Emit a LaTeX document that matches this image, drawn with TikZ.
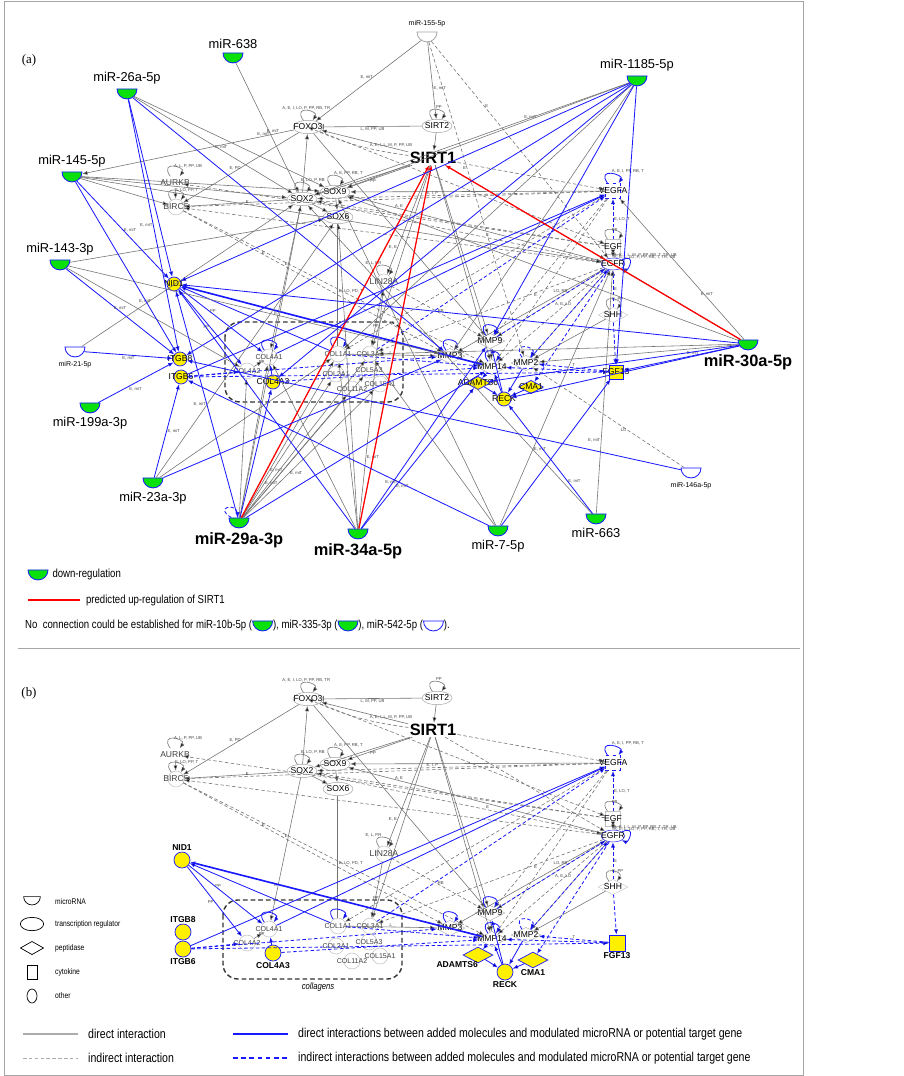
\documentclass[tikz,border=0pt]{standalone}
\usepackage{fontspec}
\setmainfont{Liberation Sans}
\newfontfamily\narrowfont[FakeStretch=0.82]{Liberation Sans}
\newfontfamily\tagfont{Liberation Serif}
\usetikzlibrary{arrows.meta, positioning, shapes.geometric}

\definecolor{mirgreen}{RGB}{10,225,10}
\definecolor{molyellow}{RGB}{255,240,0}
\definecolor{ipablue}{RGB}{25,25,255}
\definecolor{edgegray}{RGB}{115,115,115}

\newcommand\genefont{\fontsize{7.3}{8}\selectfont}
\newcommand\colfont{\fontsize{6}{7}\selectfont}
\newcommand\lblfont{\fontsize{3.6}{4}\selectfont}
\newcommand\mirfont{\fontsize{11}{12}\selectfont}
\newcommand\mirbigfont{\fontsize{14}{15}\selectfont\bfseries}
\newcommand\mirsmallfont{\fontsize{6}{7}\selectfont}

\tikzset{
    >={Latex[length=4.5pt,width=3.5pt]}, % filled heads as in the IPA plot
    dir/.style={->, draw=edgegray, line width=0.5pt}, % direct interaction
    ind/.style={dir, dash pattern=on 3pt off 2pt}, % indirect interaction
    bdir/.style={->, draw=ipablue, line width=0.7pt}, % added molecules, direct
    bind/.style={bdir, dash pattern=on 3pt off 2pt}, % added molecules, indirect
    redup/.style={->, draw=red, line width=1.1pt}, % predicted up-regulation of SIRT1
    cyc/.style={out=125, in=55, min distance=6mm}, % self loop
    lbl/.style={font=\lblfont, text=black!75, inner sep=0.5pt},
    tr/.style={ellipse, draw=gray!75, fill=white, minimum width=9mm, minimum height=4mm, inner sep=0.3pt,
        label={[font=\genefont]center:#1}},
    oth/.style={circle, draw=gray!55, minimum size=4.8mm, inner sep=0.3pt,
        label={[font=\genefont, text=black!75]center:#1}},
    othc/.style={circle, draw=gray!55, minimum size=4.8mm, inner sep=0.3pt,
        label={[font=\colfont, text=black!75]center:#1}},
    pep/.style={diamond, draw=gray!65, minimum width=9mm, minimum height=4.6mm, inner sep=0.3pt,
        label={[font=\genefont]center:#1}},
    cyt/.style={rectangle, draw=ipablue, dashed, minimum size=4.6mm, inner sep=0.3pt,
        label={[font=\genefont]center:#1}},
    recp/.style={ellipse, draw=ipablue, minimum width=7mm, minimum height=3.6mm, inner sep=0.3pt,
        label={[font=\genefont]center:#1}},
    mir/.style={semicircle, shape border rotate=180, draw=ipablue, fill=mirgreen, line width=0.7pt,
        minimum width=6mm, minimum height=3mm, inner sep=0.3pt},
    mirw/.style={mir, fill=white},
    ylwa/.style={circle, draw=ipablue, fill=molyellow, line width=0.6pt, minimum size=4.2mm, inner sep=0.3pt,
        label={[font=\genefont]center:#1}},
    ylwpa/.style={diamond, draw=ipablue, fill=molyellow, line width=0.6pt, minimum width=7.5mm,
        minimum height=4mm, inner sep=0.3pt, label={[font=\genefont]center:#1}},
    ylwca/.style={rectangle, draw=ipablue, fill=molyellow, line width=0.6pt, minimum size=4.2mm,
        inner sep=0.3pt, label={[font=\genefont]center:#1}},
    ylwb/.style={circle, draw=ipablue, fill=molyellow, line width=0.6pt, minimum size=4.8mm, inner sep=0.3pt},
    ylwpb/.style={diamond, draw=ipablue, fill=molyellow, line width=0.6pt, minimum width=9mm,
        minimum height=4.8mm, inner sep=0.3pt},
    ylwcb/.style={rectangle, draw=ipablue, fill=molyellow, line width=0.6pt, minimum size=4.8mm, inner sep=0.3pt},
    blbl/.style={font=\genefont\bfseries, inner sep=1pt},
    collbox/.style={draw=black!80, line width=1.2pt, dash pattern=on 4pt off 2.5pt, rounded corners=4.5mm},
    keyshape/.style={draw=black, line width=0.6pt, fill=white, inner sep=0.3pt},
    keytxt/.style={font=\narrowfont\fontsize{7}{8}\selectfont, inner sep=0pt},
    legtxt/.style={font=\narrowfont\fontsize{10}{11}\selectfont, inner sep=0pt},
    keybig/.style={font=\narrowfont\fontsize{11}{12}\selectfont, inner sep=0pt},
}

% network shared by panels (a) and (b)
\newcommand\corenodes{%
  \node[tr=FOXO3] (foxo3) at (308,-127) {};
  \node[tr=SIRT2] (sirt2) at (437,-126) {};
  \node[font=\mirbigfont, inner sep=1pt] (sirt1) at (433,-158) {SIRT1};
  \node[oth=AURKB, draw=none] (aurkb) at (175,-183) {};
  \node[oth=BIRC5] (birc5) at (176,-207) {};
  \node[tr=SOX2] (sox2) at (302,-199) {};
  \node[tr=SOX9] (sox9) at (335,-192) {};
  \node[tr=SOX6] (sox6) at (338,-217) {};
  \node[oth=LIN28A] (lin28a) at (384,-282) {};
  \node[cyt=VEGFA] (vegfa) at (613,-191) {};
  \node[cyt=EGF, draw=gray!50, solid] (egf) at (613,-247) {};
  \node[recp=EGFR] (egfr) at (613,-264) {};
  \node[pep=SHH, draw=gray!45] (shh) at (613,-315) {};
  \node[pep=MMP3] (mmp3) at (450,-356) {};
  \node[pep=MMP9] (mmp9) at (490,-341) {};
  \node[pep=MMP14] (mmp14) at (492,-367) {};
  \node[pep=MMP2] (mmp2) at (526,-363) {};
  \node[othc=COL1A1] (col1a1) at (338,-354) {};
  \node[othc=COL3A1] (col3a1) at (370,-354) {};
  \node[othc=COL2A1] (col2a1) at (336,-374) {};
  \node[othc=COL5A3] (col5a3) at (369,-370) {};
  \node[othc=COL15A1] (col15a1) at (380,-384) {};
  \node[othc=COL11A2] (col11a2) at (352,-389) {};
  \node[othc=COL4A1] (col4a1) at (269,-357) {};
  \node[othc=COL4A2] (col4a2) at (247,-371) {};
}

\newcommand\coreedges{%
  \path[dir]
    (foxo3) edge[cyc] node[lbl, above]{A, E, I, LO, P, PP, RB, TR} (foxo3)
    (sirt2) edge[cyc] node[lbl, above right]{PP} (sirt2)
    (sox2) edge[cyc] node[lbl, above right]{E, LO, P, RB} (sox2)
    (sox9) edge[cyc] node[lbl, above right]{A, E, PP, RB, T} (sox9)
    (aurkb) edge[cyc] node[lbl, right]{A, L, P, PP, UB} (aurkb)
    (birc5) edge[cyc] node[lbl, right]{E, LO, PP, T} (birc5)
    (lin28a) edge[cyc] node[lbl, above left]{E, L, PR} (lin28a)
    (egf) edge[cyc] node[lbl, right]{PP} (egf)
    (shh) edge[cyc] node[lbl, right]{E, PP} (shh);
  \path[dir]
    (sirt2) edge[-|] node[lbl, below]{L, M, PP, UB} (foxo3)
    (sirt1) edge node[lbl, above, pos=0.2]{A, E, I, L, M, P, PP, UB} (foxo3)
    (sirt2) edge (sirt1)
    (sox2) edge (foxo3)
    (foxo3) edge node[lbl, above, pos=0.55]{E, PD} (birc5)
    (foxo3) edge (mmp9)
    (sirt1) edge node[lbl, below, pos=0.6]{PP} (sox9)
    (sirt1) edge (sox2)
    (sirt1) edge node[lbl, left, pos=0.75]{E, E} (lin28a)
    (sirt1) edge (mmp9)
    (sirt1) edge (col3a1)
    (sirt1) edge (mmp14)
    (sox2) edge (sox6)
    (sox9) edge (sox6)
    (sox2) edge (birc5)
    (aurkb) edge (birc5)
    (vegfa) edge (sox9)
    (egfr) edge node[lbl, above, pos=0.8]{A, E} (sox9)
    (egf) edge[<->] node[lbl, right, pos=0]{A, E, I, L, M, P, PP, RB, T, TR, UB}
                    node[lbl, right, pos=1]{A, E, L, LO, P, PP, RB, T, TR, UB} (egfr)
    (sox2) edge node[lbl, left, pos=0.75]{E} (col4a1)
    (sox6) edge[-, double, double distance=0.8pt] node[lbl, right, pos=0.55]{E, LO, PD, T} (col1a1)
    (col1a1) edge node[lbl, above]{L} (mmp3)
    (col4a2) edge node[lbl, above right]{PP} (col4a1)
    (mmp9) edge (mmp14)
    (mmp3) edge (mmp14)
    (egfr) edge node[lbl, above, pos=0.3]{LO, RB} (mmp3)
    (lin28a) edge node[lbl, below, pos=0.6]{PP} (col3a1)
    (shh) edge (mmp2);
  \path[ind]
    (sirt1) edge[bend left=8] (foxo3)
    (vegfa) edge node[lbl, above, pos=0.85]{E} (birc5)
    (egfr) edge (birc5)
    (egf) edge (aurkb)
    (egf) edge (sox2)
    (vegfa) edge node[lbl, above, pos=0.6]{E, I, P} (sox2)
    (birc5) edge node[lbl, right, pos=0.3]{E} (mmp3)
    (birc5) edge node[lbl, left, pos=0.35]{E} (mmp14)
    (vegfa) edge (mmp9)
    (vegfa) edge (mmp14)
    (vegfa) edge (col1a1)
    (egfr) edge (mmp9)
    (egfr) edge (mmp2)
    (egfr) edge node[lbl, above, pos=0.4]{A, E, LO} (mmp14)
    (egfr) edge node[lbl, below, pos=0.3]{E} (col3a1)
    (sirt1) edge (egfr)
    (sirt1) edge (vegfa)
    (foxo3) edge (egf)
    (sox2) edge node[lbl, above, pos=0.6]{E} (egfr)
    (lin28a) edge node[lbl, right]{RB} (mmp9);
  \path[bdir]
    (vegfa) edge[cyc] node[lbl, above right]{A, E, I, PP, RB, T} (vegfa)
    (mmp9) edge[cyc] (mmp9)
    (mmp14) edge[cyc] (mmp14)
    (mmp3) edge[cyc] (mmp3)
    (col1a1) edge[cyc] (col1a1)
    (col4a1) edge[cyc] (col4a1)
    (egfr) edge[out=25, in=-25, min distance=5mm] (egfr)
    (mmp14) edge[line width=1.4pt] (nid1)
    (nid1) edge node[lbl, above, pos=0.4]{PP} (col4a1)
    (nid1) edge node[lbl, left, pos=0.5]{PP} (col4a2)
    (col1a1) edge (nid1)
    (itgb6) edge (vegfa)
    (col4a1) edge (vegfa)
    (reck) edge (mmp9)
    (reck) edge (mmp14)
    (mmp2) edge (reck)
    (cma1) edge (reck)
    (adamts6) edge (reck)
    (mmp14) edge (adamts6)
    (col4a3) edge (col4a1);
  \path[bind]
    (mmp2) edge[cyc] (mmp2)
    (egf) edge node[lbl, right]{E, LO, T} (vegfa)
    (itgb6) edge (mmp3)
    (itgb6) edge (col4a2)
    (itgb6) edge (fgf13)
    (col4a3) edge (mmp14)
    (col3a1) edge (vegfa)
    (mmp9) edge (egfr)
    (mmp2) edge (egfr)
    (shh) edge node[lbl, right]{E} (egfr)
    (shh) edge (fgf13)
    (fgf13) edge node[lbl, above]{T} (mmp2)
    (fgf13) edge (mmp14)
    (egfr) edge (cma1)
    (col1a1) edge (mmp14);
}

\begin{document}
\begin{tikzpicture}[x=0.03cm, y=0.03cm]
\useasboundingbox (0,0) rectangle (903,-1076);
\draw[gray!70, line width=0.8pt] (4,-1) rectangle (803,-1075);

% (a) network with the modulated microRNAs
\node[font=\tagfont\fontsize{11}{12}\selectfont] (taga) at (29,-60) {(a)};
\begin{scope}[name prefix=a-]
  \corenodes
  \draw[collbox] (225,-322) rectangle (403,-402);
  \node[ylwa=NID1] (nid1) at (174,-284) {};
  \node[ylwa=ITGB8] (itgb8) at (180,-359) {};
  \node[ylwa=ITGB6] (itgb6) at (181,-377) {};
  \node[ylwa=COL4A3] (col4a3) at (273,-382) {};
  \node[ylwpa=ADAMTS6] (adamts6) at (478,-383) {};
  \node[ylwa=RECK] (reck) at (504,-399) {};
  \node[ylwpa=CMA1] (cma1) at (531,-387) {};
  \node[ylwca=FGF13] (fgf13) at (616,-372) {};
  \coreedges

  \node[mirw, draw=gray!70, label={[font=\mirsmallfont]above:miR-155-5p}] (m155) at (427,-36) {};
  \node[mir, label={[font=\mirfont]above:miR-638}] (m638) at (233,-57) {};
  \node[mir, label={[font=\mirfont]above:miR-26a-5p}] (m26a) at (127,-93) {};
  \node[mir, label={[font=\mirfont]above:miR-1185-5p}] (m1185) at (637,-80) {};
  \node[mir, label={[font=\mirfont]above:miR-145-5p}] (m145) at (72,-176) {};
  \node[mir, label={[font=\mirfont]above:miR-143-3p}] (m143) at (60,-264) {};
  \node[mirw, label={[font=\mirsmallfont]below:miR-21-5p}] (m21) at (75,-351) {};
  \node[mir, label={[font=\mirfont]below:miR-199a-3p}] (m199a) at (90,-407) {};
  \node[mir, label={[font=\mirfont]below:miR-23a-3p}] (m23a) at (153,-482) {};
  \node[mir, label={[font=\mirbigfont]below:miR-29a-3p}] (m29a) at (239,-522) {};
  \node[mir, label={[font=\mirbigfont]below:miR-34a-5p}] (m34a) at (358,-533) {};
  \node[mir, label={[font=\mirfont]below:miR-7-5p}] (m7) at (498,-530) {};
  \node[mir, label={[font=\mirfont]below:miR-663}] (m663) at (596,-518) {};
  \node[mirw, label={[font=\mirsmallfont]below:miR-146a-5p}] (m146a) at (691,-472) {};
  \node[mir, label={[font=\mirbigfont]below:miR-30a-5p}] (m30a) at (748,-344) {};

  \path[dir]
    (m155) edge node[lbl, left, pos=0.45]{E, miT} (foxo3)
    (m155) edge node[lbl, right, pos=0.6]{E, miT} (sirt2)
    (m638) edge node[lbl, left, pos=0.55]{E, miT} (sox2)
    (m26a) edge node[lbl, above, pos=0.55]{E, miT} (sox2)
    (m26a) edge (sox9)
    (m1185) edge node[lbl, above, pos=0.35]{E, miT} (sox9)
    (m1185) edge (sox2)
    (m1185) edge (col1a1)
    (m1185) edge (mmp3)
    (foxo3) edge node[lbl, above, pos=0.1]{E, miT} (m145)
    (m145) edge (sox2)
    (m145) edge (sox9)
    (m145) edge (egfr)
    (m145) edge (birc5)
    (m143) edge (sox6)
    (m143) edge (col4a2)
    (m143) edge (mmp3)
    (m21) edge node[lbl, above, pos=0.3]{E, miT} (sox2)
    (m23a) edge (sox6)
    (m23a) edge (col1a1)
    (m29a) edge (col4a1)
    (m29a) edge (col4a2)
    (m29a) edge node[lbl, right, pos=0.3]{E, miT} (col1a1)
    (m29a) edge (col3a1)
    (m29a) edge node[lbl, right, pos=0.25]{E, miT} (col2a1)
    (m29a) edge (col5a3)
    (m29a) edge node[lbl, right, pos=0.35]{E, miT} (col15a1)
    (m29a) edge (col11a2)
    (m29a) edge (sox2)
    (m34a) edge node[lbl, right, pos=0.3]{E, miT} (lin28a)
    (m34a) edge (sox6)
    (m34a) edge (col1a1)
    (m34a) edge (col4a1)
    (m7) edge node[lbl, right, pos=0.3]{E, miT} (egfr)
    (m7) edge (sox9)
    (m7) edge (col3a1)
    (m663) edge (sox2)
    (m663) edge node[lbl, left, pos=0.3]{E, miT} (egfr)
    (m30a) edge (egfr)
    (m30a) edge node[lbl, above, pos=0.3]{E, miT} (vegfa)
    (m30a) edge (mmp2)
    (m30a) edge (sox9)
    (m30a) edge (col3a1);
  \path[ind]
    (m155) edge node[lbl, right, pos=0.3]{E} (egfr)
    (m155) edge node[lbl, left, pos=0.4]{E} (mmp2)
    (m146a) edge node[lbl, below, pos=0.4]{LO} (mmp2);
  \path[redup]
    (m29a) edge (sirt1)
    (m34a) edge (sirt1)
    (m30a) edge (sirt1);
  \path[bdir]
    (m26a) edge (nid1)
    (m26a) edge node[lbl, left, pos=0.5]{E, miT} (itgb8)
    (m26a) edge (mmp3)
    (m1185) edge (nid1)
    (m1185) edge (itgb8)
    (m1185) edge (fgf13)
    (m1185) edge (mmp9)
    (m1185) edge (col4a3)
    (m145) edge node[lbl, right, pos=0.5]{E, miT} (nid1)
    (m145) edge (itgb8)
    (m143) edge node[lbl, above, pos=0.5]{E, miT} (itgb8)
    (m21) edge node[lbl, below, pos=0.5]{E, miT} (itgb8)
    (m199a) edge node[lbl, below right, pos=0.4]{E, miT} (itgb8)
    (m23a) edge node[lbl, right, pos=0.5]{E, miT} (itgb6)
    (m23a) edge (mmp3)
    (m29a) edge node[lbl, left, pos=0.5]{E, miT} (nid1)
    (m29a) edge (col4a3)
    (m29a) edge (mmp14)
    (m29a) edge[bind, out=150, in=100, min distance=6mm] (m29a)
    (m34a) edge (nid1)
    (m34a) edge node[lbl, right, pos=0.3]{E, miT} (adamts6)
    (m34a) edge (mmp9)
    (m7) edge node[lbl, left, pos=0.3]{E, miT} (itgb6)
    (m7) edge (fgf13)
    (m663) edge node[lbl, right, pos=0.3]{E, miT} (reck)
    (m146a) edge (itgb8)
    (m30a) edge node[lbl, above, pos=0.4]{E, miT} (fgf13)
    (m30a) edge (reck)
    (m30a) edge (nid1)
    (m30a) edge (adamts6);

  % legend of panel (a)
  \node[mir] (keydown) at (38,-574) {};
  \node[legtxt, right=4pt of keydown] (keydowntxt) {down-regulation};
  \coordinate (keyred1) at (28,-600);
  \coordinate (keyred2) at (80,-600);
  \draw[red, line width=1.2pt] (keyred1) -- (keyred2);
  \node[legtxt, right=5pt of keyred2] (keyredtxt) {predicted up-regulation of SIRT1};
  \node[legtxt, anchor=west] (nocon1) at (25,-625) {No\ \ connection could be established for miR-10b-5p (};
  \node[mir, right=0.5pt of nocon1] (nocon10b) {};
  \node[legtxt, right=0.5pt of nocon10b] (nocon2) {), miR-335-3p (};
  \node[mir, right=0.5pt of nocon2] (nocon335) {};
  \node[legtxt, right=0.5pt of nocon335] (nocon3) {), miR-542-5p (};
  \node[mirw, right=0.5pt of nocon3] (nocon542) {};
  \node[legtxt, right=0.5pt of nocon542] (nocon4) {).};
\end{scope}

\draw[gray!70, line width=0.8pt] (18,-648) -- (800,-648);

% (b) network with the added molecules only
\node[font=\tagfont\fontsize{11}{12}\selectfont] (tagb) at (29,-693) {(b)};
\begin{scope}[name prefix=b-, shift={(0,-572)}]
  \corenodes
  \draw[collbox] (223,-328) rectangle (402,-407);
  \node[font=\narrowfont\itshape\fontsize{8}{9}\selectfont] (colltxt) at (318,-415) {collagens};
  \node[ylwb, label={[blbl]above:NID1}] (nid1) at (182,-288) {};
  \node[ylwb, label={[blbl]above:ITGB8}] (itgb8) at (183,-360) {};
  \node[ylwb, label={[blbl]below:ITGB6}] (itgb6) at (183,-377) {};
  \node[ylwb, label={[blbl]below:COL4A3}] (col4a3) at (273,-381) {};
  \node[ylwpb, label={[blbl, xshift=2mm]below left:ADAMTS6}] (adamts6) at (478,-383) {};
  \node[ylwb, label={[blbl]below:RECK}] (reck) at (505,-400) {};
  \node[ylwpb, label={[blbl]below:CMA1}] (cma1) at (533,-388) {};
  \node[ylwcb, label={[blbl]below:FGF13}] (fgf13) at (617,-371) {};
  \coreedges
\end{scope}

% shape key
\node[keyshape, semicircle, shape border rotate=180, minimum width=5mm, minimum height=2.5mm] (keymir) at (32,-900) {};
\node[keytxt, anchor=west] (keymirtxt) at (55,-902) {microRNA};
\node[keyshape, ellipse, minimum width=7mm, minimum height=4mm] (keytr) at (32,-924) {};
\node[keytxt, anchor=west] (keytrtxt) at (55,-924) {transcription regulator};
\node[keyshape, diamond, minimum width=7mm, minimum height=4mm] (keypep) at (32,-948) {};
\node[keytxt, anchor=west] (keypeptxt) at (55,-948) {peptidase};
\node[keyshape, rectangle, minimum width=3mm, minimum height=4.2mm] (keycyt) at (32,-972) {};
\node[keytxt, anchor=west] (keycyttxt) at (55,-972) {cytokine};
\node[keyshape, ellipse, minimum width=3mm, minimum height=4.2mm] (keyoth) at (32,-996) {};
\node[keytxt, anchor=west] (keyothtxt) at (55,-996) {other};

% line key
\coordinate (keyd1) at (23,-1034);
\coordinate (keyd2) at (78,-1034);
\coordinate (keyi1) at (23,-1058);
\coordinate (keyi2) at (78,-1058);
\coordinate (keybd1) at (233,-1034);
\coordinate (keybd2) at (288,-1034);
\coordinate (keybi1) at (233,-1058);
\coordinate (keybi2) at (288,-1058);
\draw[gray!65, line width=1.1pt] (keyd1) -- (keyd2);
\draw[gray!65, line width=0.8pt, dash pattern=on 3pt off 2pt] (keyi1) -- (keyi2);
\draw[ipablue, line width=1.2pt] (keybd1) -- (keybd2);
\draw[ipablue, line width=1.2pt, dash pattern=on 4pt off 3pt] (keybi1) -- (keybi2);
\node[keybig, right=3mm of keyd2] (keydtxt) {direct interaction};
\node[keybig, right=3mm of keyi2] (keyitxt) {indirect interaction};
\node[keybig, right=3mm of keybd2] (keybdtxt) {direct interactions between added molecules and modulated microRNA or potential target gene};
\node[keybig, right=3mm of keybi2] (keybitxt) {indirect interactions between added molecules and modulated microRNA or potential target gene};
\end{tikzpicture}
\end{document}
